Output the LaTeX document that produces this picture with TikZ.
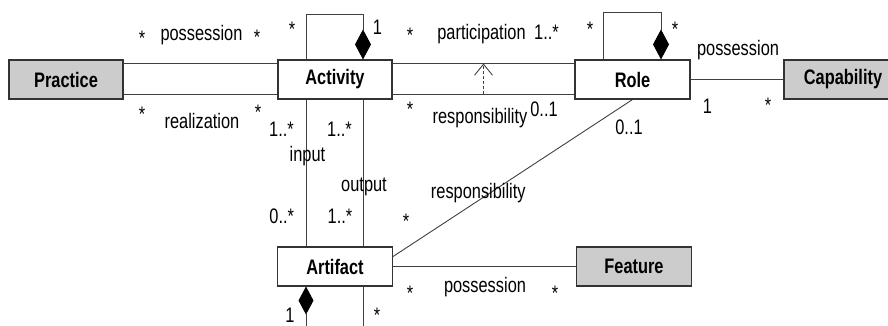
\documentclass[tikz,border=0pt]{standalone}
\usepackage{fontspec}
\setmainfont{Liberation Sans}[FakeStretch=0.78]
\usetikzlibrary{positioning,arrows.meta}

\begin{document}
\begin{tikzpicture}[x=1pt,y=-1pt,every node/.style={on grid},
    font=\fontsize{21}{24}\selectfont,
    cls/.style={draw=black!80,line width=1.1pt,minimum width=114pt,minimum height=39pt,
      inner sep=0pt,font=\fontsize{21}{24}\selectfont\bfseries},
    ext/.style={cls,fill=black!20},
    assoc/.style={draw=black!75,line width=0.9pt},
    comp/.style={assoc,-{Diamond[length=30pt,width=16pt,black]}},
    lbl/.style={anchor=base,inner sep=0pt}]
  \useasboundingbox (0,0) rectangle (888,326);
  \clip (0,0) rectangle (888,326);
  % classes
  \node[ext] (prac) at (66,79.5) {Practice};
  \node[cls,right=269pt of prac] (act) {Activity};
  \node[cls,right=297.5pt of act,minimum width=115pt] (role) {Role};
  \node[ext,right=210.5pt of role,minimum width=118pt] (cap) {Capability};
  \node[cls,below=187pt of act,minimum width=115pt] (art) {Artifact};
  \node[ext,right=299pt of art,minimum width=115pt] (feat) {Feature};
  \coordinate (down1) at (306,345);
  \coordinate (down2) at (363,345);

  % practice -- activity
  \draw[assoc] ([yshift=16pt]prac.east) -- ([yshift=16pt]act.west)
    node[lbl] at (142,45.5) {*} node[lbl] at (201.5,40.5) {possession}
    node[lbl] at (257,45) {*};
  \draw[assoc] ([yshift=-14.5pt]prac.east) -- ([yshift=-14.5pt]act.west)
    node[lbl] at (142,121.5) {*} node[lbl] at (202,128.3) {realization}
    node[lbl] at (258,120) {*};

  % activity -- role
  \draw[assoc] ([yshift=16pt]act.east) -- coordinate (partTop) ([yshift=16pt]role.west)
    node[lbl] at (410,43) {*} node[lbl] at (481.5,40) {participation}
    node[lbl] at (546.5,40) {1..*};
  \draw[assoc] ([yshift=-14.5pt]act.east) -- coordinate (partBot) ([yshift=-14.5pt]role.west)
    node[lbl] at (410,116.7) {*} node[lbl] at (480,123.3) {responsibility}
    node[lbl] at (544,116.7) {0..1};
  \draw[assoc,dash pattern=on 3pt off 2pt,-{Straight Barb[length=11pt,width=18pt]}] (partBot) -- (partTop);

  % self compositions
  \draw[comp] ([xshift=-29pt]act.north) -- ++(0,-45) -| ([xshift=28pt]act.north)
    node[lbl] at (292,37) {*} node[lbl] at (377.5,35) {1};
  \draw[comp] ([xshift=-29.5pt]role.north) -- ++(0,-47) -| ([xshift=28.5pt]role.north)
    node[lbl] at (590,36.7) {*} node[lbl] at (675,36.7) {*};

  % role -- capability
  \draw[assoc] (role.east) -- (cap.west)
    node[lbl] at (738,56) {possession} node[lbl] at (707.5,113.3) {1}
    node[lbl] at (768,113) {*};

  % activity -- artifact
  \draw[assoc] ([xshift=-29pt]act.south) -- ([xshift=-29pt]art.north)
    node[lbl] at (281.5,136.7) {1..*} node[lbl] at (307.5,161) {input}
    node[lbl] at (281.7,223.3) {0..*};
  \draw[assoc] ([xshift=28pt]act.south) -- ([xshift=28pt]art.north)
    node[lbl] at (339.5,136.7) {1..*} node[lbl] at (364,191.5) {output}
    node[lbl] at (340,223.3) {1..*};

  % role -- artifact
  \draw[assoc] (role.south) -- ([yshift=10pt]art.east)
    node[lbl] at (629,135) {0..1} node[lbl] at (478.3,198.3) {responsibility}
    node[lbl] at (406,228) {*};

  % artifact -- feature
  \draw[assoc] (art.east) -- (feat.west)
    node[lbl] at (410,300) {*} node[lbl] at (485,292.6) {possession}
    node[lbl] at (555,300) {*};

  % artifact below
  \draw[assoc,-{Diamond[length=28pt,width=15pt,black]}] (down1) -- ([xshift=-29pt]art.south)
    node[lbl] at (290,322) {1};
  \draw[assoc] ([xshift=28pt]art.south) -- (down2)
    node[lbl] at (377,322) {*};
\end{tikzpicture}
\end{document}
